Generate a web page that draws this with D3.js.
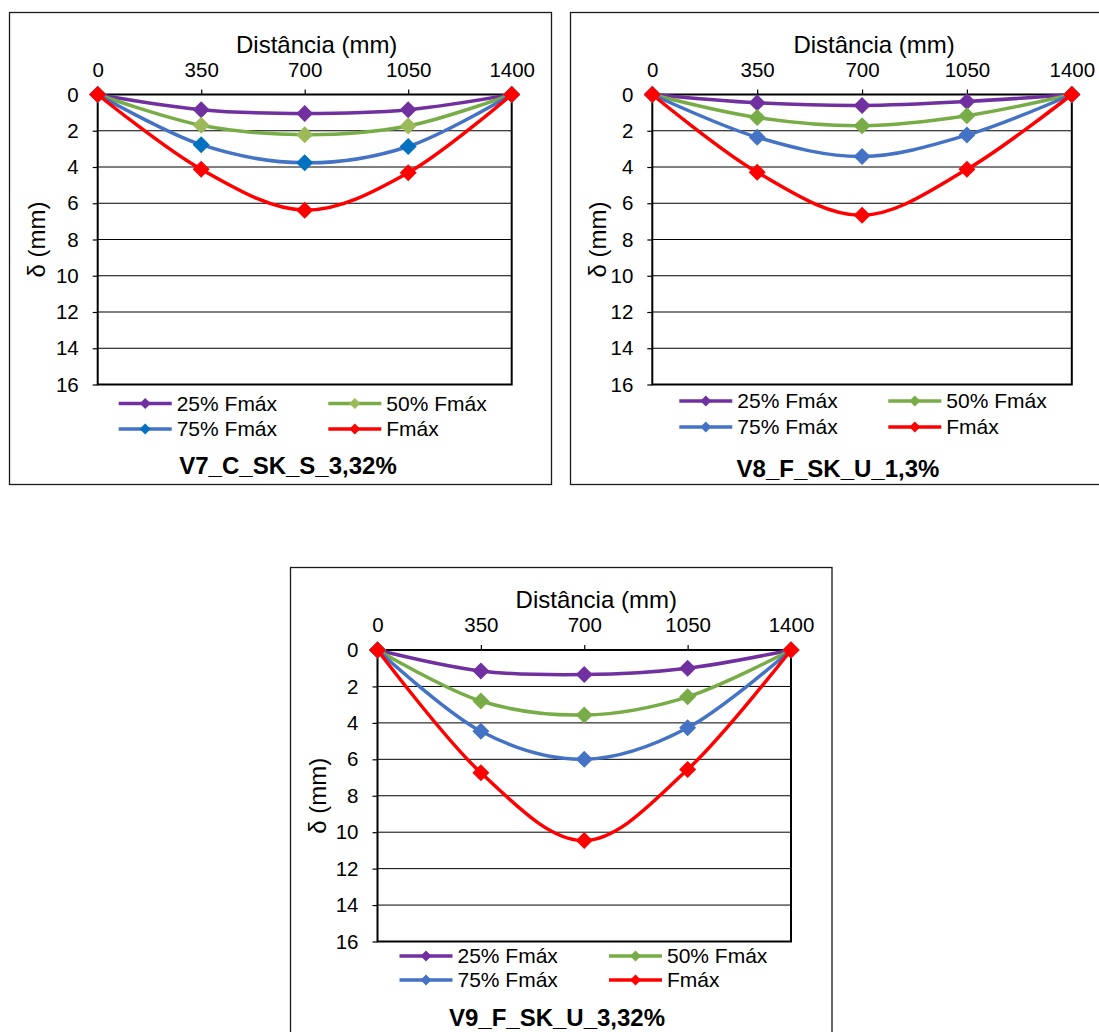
<!DOCTYPE html>
<html>
<head>
<meta charset="utf-8">
<script src="https://cdn.jsdelivr.net/npm/d3@7"></script>
<style>
    body { margin: 0; background: #fff; }
    text { font-family: "Liberation Sans", Arial, sans-serif; fill: #000; }
</style>
</head>
<body>
<script>
// chart data
var distances = [0, 350, 700, 1050, 1400];
var xTicks = [0, 350, 700, 1050, 1400];
var yTicks = [0, 2, 4, 6, 8, 10, 12, 14, 16];
var seriesNames = ["25% Fmáx", "50% Fmáx", "75% Fmáx", "Fmáx"];
var chartTitles = ["V7_C_SK_S_3,32%", "V8_F_SK_U_1,3%", "V9_F_SK_U_3,32%"];

// V7
var v7_25 = [0, 0.84, 1.05, 0.84, 0];
var v7_50 = [0, 1.70, 2.22, 1.74, 0];
var v7_75 = [0, 2.77, 3.77, 2.87, 0];
var v7_max = [0, 4.13, 6.38, 4.32, 0];
// V8
var v8_25 = [0, 0.46, 0.61, 0.39, 0];
var v8_50 = [0, 1.27, 1.72, 1.17, 0];
var v8_75 = [0, 2.36, 3.42, 2.24, 0];
var v8_max = [0, 4.29, 6.66, 4.13, 0];
// V9
var v9_25 = [0, 1.15, 1.35, 1.00, 0];
var v9_50 = [0, 2.80, 3.57, 2.57, 0];
var v9_75 = [0, 4.46, 6.00, 4.27, 0];
var v9_max = [0, 6.74, 10.46, 6.56, 0];

var lineColors = ["#7030A0", "#77AC46", "#4472C4", "#FF0000"];

var width = 1099, height = 1032;

var svg = d3.select("body").append("svg")
    .attr("width", width)
    .attr("height", height);

svg.append("rect")
    .attr("width", width)
    .attr("height", height)
    .attr("fill", "#fff");

// diamond marker (square turned 45 degrees)
function diamond(r) {
    return "M0," + (-r) + "L" + r + ",0L0," + r + "L" + (-r) + ",0Z";
}

var charts = [
    {
        title: chartTitles[0],
        series: [v7_25, v7_50, v7_75, v7_max],
        markerColors: ["#7030A0", "#9BBB59", "#0070C0", "#FF0000"],
        frame: {x: 9.5, y: 12.5, w: 542, h: 472},
        plot: {x: 97.7, y: 94.5, w: 414, h: 290},
        yTitleDx: -61,
        legend: {dx: [21, 230.6], rows: [19, 44.5]},
        titleX: 288, titleDy: 89.5
    },
    {
        title: chartTitles[1],
        series: [v8_25, v8_50, v8_75, v8_max],
        markerColors: lineColors,
        frame: {x: 570.5, y: 12.5, w: 545, h: 472},
        plot: {x: 652.3, y: 94.5, w: 419.5, h: 290},
        yTitleDx: -55,
        legend: {dx: [27, 236], rows: [16.5, 42.5]},
        titleX: 838, titleDy: 92
    },
    {
        title: chartTitles[2],
        series: [v9_25, v9_50, v9_75, v9_max],
        markerColors: lineColors,
        frame: {x: 290.5, y: 567.5, w: 541.5, h: 480},
        plot: {x: 377.5, y: 650, w: 413.5, h: 291.5},
        yTitleDx: -60,
        legend: {dx: [22, 231.5], rows: [14.5, 38.5]},
        titleX: 557, titleDy: 84
    }
];

charts.forEach(function(c) {
    var g = svg.append("g");

    // outer chart frame
    g.append("rect")
        .attr("x", c.frame.x)
        .attr("y", c.frame.y)
        .attr("width", c.frame.w)
        .attr("height", c.frame.h)
        .attr("fill", "#fff")
        .attr("stroke", "#1a1a1a")
        .attr("stroke-width", 1.3);

    var xScale = d3.scaleLinear()
        .domain([0, 1400])
        .range([c.plot.x, c.plot.x + c.plot.w]);
    var yScale = d3.scaleLinear()
        .domain([0, 16])
        .range([c.plot.y, c.plot.y + c.plot.h]);

    // horizontal gridlines
    g.selectAll("line.grid")
        .data(yTicks)
        .enter()
        .append("line")
        .attr("class", "grid")
        .attr("x1", c.plot.x)
        .attr("x2", c.plot.x + c.plot.w)
        .attr("y1", function(d) { return yScale(d); })
        .attr("y2", function(d) { return yScale(d); })
        .attr("stroke", "#000")
        .attr("stroke-width", 1);

    // plot area border
    g.append("rect")
        .attr("x", c.plot.x)
        .attr("y", c.plot.y)
        .attr("width", c.plot.w)
        .attr("height", c.plot.h)
        .attr("fill", "none")
        .attr("stroke", "#000")
        .attr("stroke-width", 2);

    // axes, plain integer labels (no thousands separator)
    var xAxis = d3.axisTop(xScale).tickValues(xTicks)
        .tickFormat(d3.format("d")).tickSize(5).tickPadding(13);
    var yAxis = d3.axisLeft(yScale).tickValues(yTicks)
        .tickFormat(d3.format("d")).tickSize(5).tickPadding(14);

    var gx = g.append("g")
        .attr("transform", "translate(0," + c.plot.y + ")")
        .call(xAxis);
    var gy = g.append("g")
        .attr("transform", "translate(" + c.plot.x + ",0)")
        .call(yAxis);

    [gx, gy].forEach(function(a) {
        a.select(".domain").remove();
        a.selectAll(".tick line").attr("stroke", "#000").attr("stroke-width", 1.2);
        a.selectAll(".tick text")
            .attr("fill", "#000")
            .style("font-family", "'Liberation Sans', Arial, sans-serif")
            .style("font-size", "20.5px");
    });

    // axis titles
    g.append("text")
        .attr("x", c.plot.x + c.plot.w / 2 + 12)
        .attr("y", c.plot.y - 42)
        .attr("text-anchor", "middle")
        .style("font-size", "24px")
        .text("Distância (mm)");

    g.append("text")
        .attr("transform", "translate(" + (c.plot.x + c.yTitleDx) + "," +
            (c.plot.y + c.plot.h / 2) + ") rotate(-90)")
        .attr("dy", "0.35em")
        .attr("text-anchor", "middle")
        .style("font-size", "24px")
        .text("δ (mm)");

    // smoothed series lines with diamond markers
    var line = d3.line()
        .x(function(d, i) { return xScale(distances[i]); })
        .y(function(d) { return yScale(d); })
        .curve(d3.curveCardinal.tension(0));

    c.series.forEach(function(values, s) {
        g.append("path")
            .attr("d", line(values))
            .attr("fill", "none")
            .attr("stroke", lineColors[s])
            .attr("stroke-width", 3.5)
            .attr("stroke-linejoin", "round");

        g.selectAll("path.m" + s)
            .data(values)
            .enter()
            .append("path")
            .attr("class", "m" + s)
            .attr("d", diamond(8.5))
            .attr("transform", function(d, i) {
                return "translate(" + xScale(distances[i]) + "," + yScale(d) + ")";
            })
            .attr("fill", c.markerColors[s]);
    });

    // legend, two columns by two rows
    seriesNames.forEach(function(name, s) {
        var lx = c.plot.x + c.legend.dx[s % 2];
        var ly = c.plot.y + c.plot.h + c.legend.rows[Math.floor(s / 2)];
        g.append("line")
            .attr("x1", lx)
            .attr("x2", lx + 53)
            .attr("y1", ly)
            .attr("y2", ly)
            .attr("stroke", lineColors[s])
            .attr("stroke-width", 3.5);
        g.append("path")
            .attr("d", diamond(5.5))
            .attr("transform", "translate(" + (lx + 26.5) + "," + ly + ")")
            .attr("fill", c.markerColors[s]);
        g.append("text")
            .attr("x", lx + 58)
            .attr("y", ly)
            .attr("dy", "0.35em")
            .style("font-size", "21px")
            .text(name);
    });

    // chart title
    g.append("text")
        .attr("x", c.titleX)
        .attr("y", c.plot.y + c.plot.h + c.titleDy)
        .attr("text-anchor", "middle")
        .style("font-size", "24px")
        .style("font-weight", "bold")
        .text(c.title);
});
</script>
</body>
</html>
